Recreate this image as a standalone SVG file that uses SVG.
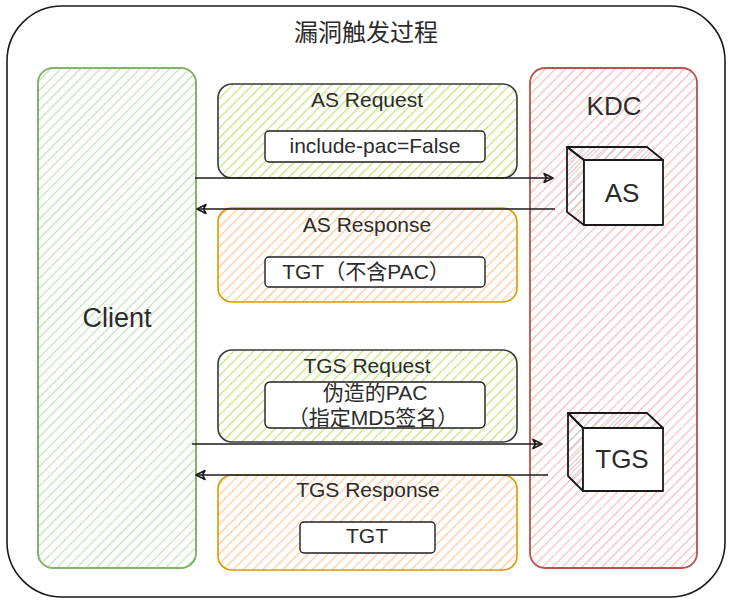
<svg xmlns="http://www.w3.org/2000/svg" width="735" height="608" viewBox="0 0 735 608">
<style>
text{font-family:"Liberation Sans","Noto Sans CJK SC",Arial,sans-serif;fill:#2b2b2b;text-anchor:middle}
.lbl{font-size:21px}
.big{font-size:26px}
.conn{stroke:#1a1a1a;stroke-width:1.6;fill:none}
.inner{fill:#ffffff;stroke:#1f1f1f;stroke-width:1.4}
.cube{stroke:#1a1a1a;stroke-width:1.8;stroke-linejoin:round}
</style>
<defs>
<pattern id="hGreen" patternUnits="userSpaceOnUse" width="7" height="7" patternTransform="rotate(45)"><line x1="0" y1="0" x2="0" y2="7" stroke="#bfe1b5" stroke-width="2.4"/></pattern>
<pattern id="hRed" patternUnits="userSpaceOnUse" width="7" height="7" patternTransform="rotate(45)"><line x1="0" y1="0" x2="0" y2="7" stroke="#f5bcba" stroke-width="2.4"/></pattern>
<pattern id="hLime" patternUnits="userSpaceOnUse" width="7" height="7" patternTransform="rotate(45)"><line x1="0" y1="0" x2="0" y2="7" stroke="#c4e67a" stroke-width="2.6"/></pattern>
<pattern id="hOrange" patternUnits="userSpaceOnUse" width="7" height="7" patternTransform="rotate(45)"><line x1="0" y1="0" x2="0" y2="7" stroke="#ffcaa0" stroke-width="2.6"/></pattern>
<pattern id="hGrey" patternUnits="userSpaceOnUse" width="6" height="6" patternTransform="rotate(45)"><line x1="0" y1="0" x2="0" y2="6" stroke="#c0c0c0" stroke-width="1.6"/></pattern>
<marker id="arr" markerWidth="12" markerHeight="12" refX="10" refY="6" orient="auto" markerUnits="userSpaceOnUse"><path d="M1,1.5 L10,6 L1,10.5 L3.5,6 Z" fill="none" stroke="#1a1a1a" stroke-width="1.6" stroke-linejoin="round"/></marker>
</defs>

<g id="outer">
<rect x="7" y="6" width="718" height="591" rx="55" ry="55" fill="#ffffff" stroke="#1a1a1a" stroke-width="1.6"/>
<text x="366" y="41" style="font-size:24px">漏洞触发过程</text>
</g>

<g id="client">
<rect x="38" y="68" width="158" height="500" rx="15" ry="15" fill="url(#hGreen)" stroke="#82b366" stroke-width="2"/>
<text class="big" x="117" y="327" style="font-size:27px">Client</text>
</g>

<g id="kdc">
<rect x="530" y="68" width="167" height="500" rx="15" ry="15" fill="url(#hRed)" stroke="#b85450" stroke-width="1.8"/>
<text class="big" x="614" y="115">KDC</text>
</g>

<g id="as">
<polygon class="cube" points="567,147 647,147 663,160 584,160" fill="url(#hGrey)"/>
<polygon class="cube" points="567,147 584,160 584,225 567,212" fill="url(#hGrey)"/>
<rect class="cube" x="584" y="160" width="79" height="65" fill="#ffffff"/>
<text class="big" x="622" y="202">AS</text>
</g>

<g id="tgs">
<polygon class="cube" points="568,413 647,413 663,428 583,428" fill="url(#hGrey)"/>
<polygon class="cube" points="568,413 583,428 583,491 568,476" fill="url(#hGrey)"/>
<rect class="cube" x="583" y="428" width="80" height="63" fill="#ffffff"/>
<text class="big" x="622" y="468">TGS</text>
</g>

<g id="as-request">
<rect x="218" y="84" width="299" height="94" rx="14" ry="14" fill="url(#hLime)" stroke="#36393d" stroke-width="1.6"/>
<text class="lbl" x="367" y="107">AS Request</text>
<rect class="inner" x="265" y="131" width="220" height="31" rx="4" ry="4"/>
<text class="lbl" x="375" y="153">include-pac=False</text>
</g>

<g id="as-response">
<rect x="218" y="208" width="299" height="94" rx="14" ry="14" fill="url(#hOrange)" stroke="#d79b00" stroke-width="1.6"/>
<text class="lbl" x="367" y="232">AS Response</text>
<rect class="inner" x="265" y="257" width="220" height="30" rx="4" ry="4"/>
<text class="lbl" x="366" y="279">TGT（不含PAC）</text>
</g>

<g id="tgs-request">
<rect x="218" y="350" width="299" height="92" rx="14" ry="14" fill="url(#hLime)" stroke="#36393d" stroke-width="1.6"/>
<text class="lbl" x="367" y="373">TGS Request</text>
<rect class="inner" x="265" y="382" width="220" height="46" rx="5" ry="5"/>
<text class="lbl" x="375" y="400">伪造的PAC</text>
<text class="lbl" x="373" y="425">（指定MD5签名）</text>
</g>

<g id="tgs-response">
<rect x="218" y="475" width="299" height="95" rx="14" ry="14" fill="url(#hOrange)" stroke="#d79b00" stroke-width="1.6"/>
<text class="lbl" x="368" y="497">TGS Response</text>
<rect class="inner" x="300" y="522" width="135" height="31" rx="4" ry="4"/>
<text class="lbl" x="367" y="543">TGT</text>
</g>

<g id="connectors">
<line class="conn" x1="195" y1="178" x2="553" y2="178" marker-end="url(#arr)"/>
<line class="conn" x1="555" y1="209" x2="197" y2="209" marker-end="url(#arr)"/>
<line class="conn" x1="192" y1="444" x2="542" y2="444" marker-end="url(#arr)"/>
<line class="conn" x1="548" y1="475" x2="196" y2="475" marker-end="url(#arr)"/>
</g>
</svg>
